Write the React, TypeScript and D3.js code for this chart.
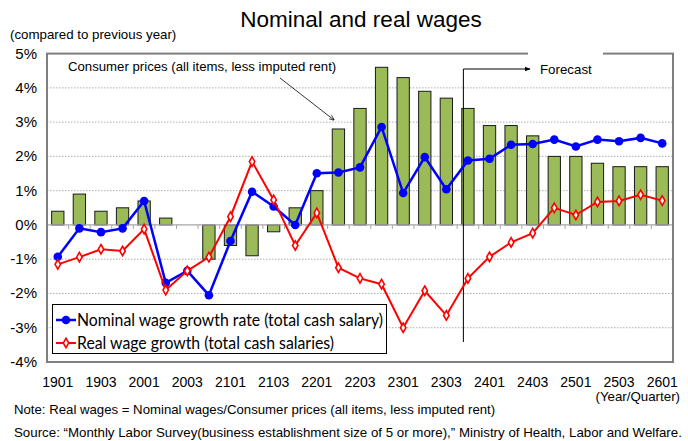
import React, { useEffect } from 'react';
import * as d3 from 'd3';

const categories = [
  '1901', '1902', '1903', '1904', '2001', '2002', '2003', '2004',
  '2101', '2102', '2103', '2104', '2201', '2202', '2203', '2204',
  '2301', '2302', '2303', '2304', '2401', '2402', '2403', '2404',
  '2501', '2502', '2503', '2504', '2601'
];
const cpi = [
  0.4, 0.9, 0.4, 0.5, 0.7, 0.2, 0.0, -1.0,
  -0.6, -0.9, -0.2, 0.5, 1.0, 2.8, 3.4, 4.6,
  4.3, 3.9, 3.7, 3.4, 2.9, 2.9, 2.6, 2.0,
  2.0, 1.8, 1.7, 1.7, 1.7
];
const nominal = [
  -0.93, -0.1, -0.21, -0.1, 0.7, -1.69, -1.34, -2.05,
  -0.47, 0.97, 0.54, 0.0, 1.51, 1.53, 1.68, 2.86,
  0.93, 1.98, 1.04, 1.88, 1.93, 2.34, 2.36, 2.49,
  2.29, 2.49, 2.44, 2.54, 2.38
];
const real = [
  -1.15, -0.94, -0.71, -0.76, -0.12, -1.9, -1.34, -0.94,
  0.24, 1.85, 0.73, -0.6, 0.35, -1.25, -1.56, -1.73,
  -3.0, -1.92, -2.64, -1.56, -0.93, -0.51, -0.24, 0.5,
  0.29, 0.67, 0.7, 0.88, 0.71
];
const yTicks = [-4, -3, -2, -1, 0, 1, 2, 3, 4, 5];
const xLabels = categories.filter((_, i) => i % 2 === 0);

const W = 688, H = 441;
const plot = { left: 47, right: 673, top: 53.6, bottom: 362 };
const sans = 'Liberation Sans, Arial, sans-serif';

const App = () => {
  useEffect(() => {
    document.body.style.margin = '0';
  }, []);

  const x = d3.scaleBand<string>()
    .domain(categories)
    .range([plot.left, plot.right])
    .paddingInner(0.43)
    .paddingOuter(0.215);
  const y = d3.scaleLinear().domain([-4, 5]).range([plot.bottom, plot.top]);
  const cx = (c: string) => (x(c) as number) + x.bandwidth() / 2;
  const step = x.step();

  const line = d3.line<number>()
    .x((_, i) => cx(categories[i]))
    .y(d => y(d));
  const diamond = d3.symbol().type(d3.symbolDiamond).size(26)();

  const forecastX = (x('2304') as number) + 1.6;
  const zeroY = y(0);

  return (
    <svg width={W} height={H} style={{ display: 'block', background: '#fff' }}>
      <defs>
        <marker id="arrowFill" viewBox="0 0 10 10" refX="9" refY="5" markerWidth="6" markerHeight="6" orient="auto">
          <path d="M0,1 L10,5 L0,9 Z" fill="#000" />
        </marker>
        <marker id="arrowOpen" viewBox="0 0 10 10" refX="9" refY="5" markerWidth="7" markerHeight="7" orient="auto">
          <path d="M0,1 L10,5 L0,9" fill="none" stroke="#000" strokeWidth="1.2" />
        </marker>
      </defs>

      <text x={361} y={27} textAnchor="middle" fontFamily={sans} fontSize={22.5}>Nominal and real wages</text>
      <text x={10} y={39} fontFamily={sans} fontSize={13.3}>(compared to previous year)</text>

      {/* grid */}
      {yTicks.filter(t => t !== -4 && t !== 5 && t !== 0).map(t => (
        <line key={t} x1={plot.left} x2={plot.right} y1={y(t)} y2={y(t)}
          stroke="#9a9a9a" strokeWidth={0.8} strokeDasharray="1.5,1.5" />
      ))}

      {/* bars */}
      {cpi.map((v, i) => (
        <rect key={i} x={x(categories[i])} width={x.bandwidth()}
          y={Math.min(y(v), zeroY)} height={Math.abs(y(v) - zeroY)}
          fill="#9BBB59" stroke="#1a1a1a" strokeWidth={1} />
      ))}

      {/* zero axis with ticks */}
      <line x1={plot.left} x2={plot.right} y1={zeroY} y2={zeroY} stroke="#a6a6a6" strokeWidth={1.2} />
      {categories.slice(1).map(c => (
        <line key={c} x1={(x(c) as number) - step * 0.215} x2={(x(c) as number) - step * 0.215}
          y1={zeroY} y2={zeroY + 4} stroke="#a6a6a6" strokeWidth={1} />
      ))}

      {/* frame */}
      <rect x={plot.left} y={plot.top} width={plot.right - plot.left} height={plot.bottom - plot.top}
        fill="none" stroke="#7f7f7f" strokeWidth={2} />

      {/* y labels */}
      {yTicks.map(t => (
        <text key={t} x={37} y={y(t) + 5} textAnchor="end" fontFamily={sans} fontSize={15}>{t}%</text>
      ))}

      {/* x labels */}
      {xLabels.map(c => (
        <text key={c} x={cx(c)} y={387} textAnchor="middle" fontFamily={sans} fontSize={14}>{c}</text>
      ))}
      <text x={680} y={401} textAnchor="end" fontFamily={sans} fontSize={13.3}>(Year/Quarter)</text>

      {/* consumer prices annotation */}
      <text x={68} y={71} fontFamily={sans} fontSize={13.2}>Consumer prices (all items, less imputed rent)</text>
      <line x1={280} y1={78} x2={334} y2={120} stroke="#000" strokeWidth={0.8} markerEnd="url(#arrowOpen)" />

      {/* forecast annotation */}
      <rect x={528} y={50} width={75} height={8} fill="#fff" />
      <line x1={forecastX} x2={forecastX} y1={69} y2={342} stroke="#000" strokeWidth={1} />
      <line x1={forecastX} x2={530} y1={69} y2={69} stroke="#000" strokeWidth={1} markerEnd="url(#arrowFill)" />
      <text x={540} y={74} fontFamily={sans} fontSize={13.3}>Forecast</text>

      {/* nominal */}
      <path d={line(nominal) || ''} fill="none" stroke="#0000FF" strokeWidth={2.5} />
      {nominal.map((v, i) => (
        <circle key={i} cx={cx(categories[i])} cy={y(v)} r={4.3} fill="#0000FF" />
      ))}

      {/* real */}
      <path d={line(real) || ''} fill="none" stroke="#FF0000" strokeWidth={2} />
      {real.map((v, i) => (
        <path key={i} d={diamond || ''} transform={`translate(${cx(categories[i])},${y(v)})`}
          fill="#fff" stroke="#FF0000" strokeWidth={1.6} />
      ))}

      {/* legend */}
      <rect x={52.5} y={304.5} width={334} height={49} fill="#fff" stroke="#000" strokeWidth={1} />
      <line x1={56} x2={76} y1={320} y2={320} stroke="#0000FF" strokeWidth={2.5} />
      <circle cx={66} cy={320} r={4.3} fill="#0000FF" />
      <text x={77} y={325.5} fontFamily="Lato, 'Open Sans', sans-serif" fontSize={16.5}
        textLength={306} lengthAdjust="spacingAndGlyphs">Nominal wage growth rate (total cash salary)</text>
      <line x1={56} x2={76} y1={343} y2={343} stroke="#FF0000" strokeWidth={2} />
      <path d={diamond || ''} transform="translate(66,343)" fill="#fff" stroke="#FF0000" strokeWidth={1.6} />
      <text x={77} y={348.5} fontFamily="Lato, 'Open Sans', sans-serif" fontSize={16.5}
        textLength={257} lengthAdjust="spacingAndGlyphs">Real wage growth (total cash salaries)</text>

      {/* notes */}
      <text x={14} y={414} fontFamily={sans} fontSize={13.2}>Note: Real wages = Nominal wages/Consumer prices (all items, less imputed rent)</text>
      <text x={14} y={437} fontFamily={sans} fontSize={13.3}>Source: “Monthly Labor Survey(business establishment size of 5 or more),” Ministry of Health, Labor and Welfare.</text>
    </svg>
  );
};

export default App;
